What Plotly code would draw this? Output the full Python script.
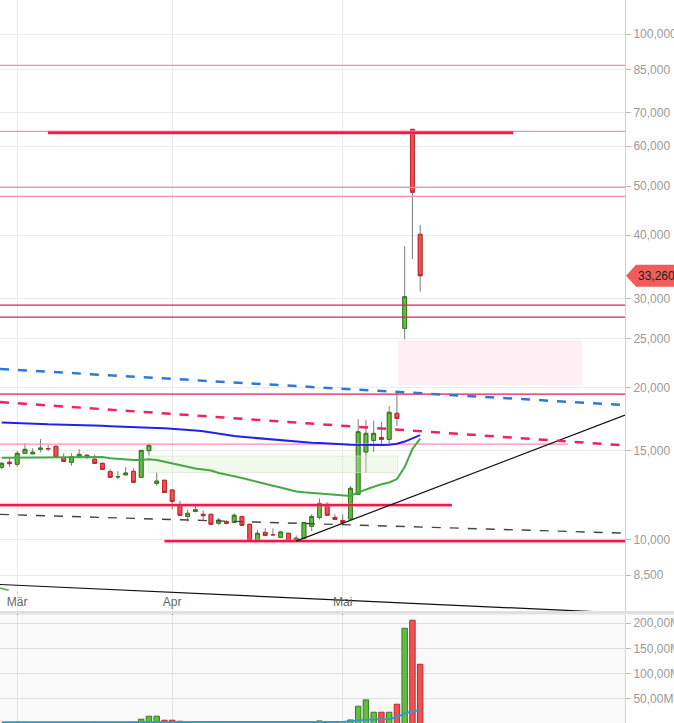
import math
import plotly.graph_objects as go

# ---------------- data ----------------
day_index = list(range(55))

opens = [13900, 14220, 14090, 14810, 14780, 15080, 15140, 15290, 14540, 14220,
         14540, 14680, 14410, 14150, 13620, 13300, 13430, 13640, 13280, 14990,
         12920, 13100, 12530, 11720, 11110, 11370, 11220, 11220, 10770, 10850,
         10810, 11110, 10720, 9930, 10330, 10230, 10100, 10290, 9960, 10060,
         10620, 11060, 11740, 11060, 10910, 10980, 12290, 14900, 15710, 15920,
         15780, 17770, 26170, 64780, 40150]
highs = [14250, 14560, 14970, 15500, 15150, 15800, 15380, 15360, 14810, 14810,
         15100, 14740, 14740, 14210, 13770, 13660, 13910, 13830, 15020, 15500,
         13580, 13110, 12590, 11920, 11470, 11740, 11400, 11230, 11060, 10930,
         11270, 11120, 10730, 10440, 10520, 10520, 10410, 10300, 10190, 10820,
         11220, 12060, 11850, 11220, 11220, 12760, 17290, 17230, 17180, 17100,
         18370, 19600, 38070, 64800, 41890]
lows = [13790, 13930, 13930, 14780, 14740, 14880, 14970, 14480, 14270, 14000,
        14520, 14420, 14140, 13760, 13270, 13160, 13400, 12970, 13270, 14650,
        12780, 12380, 11470, 11160, 10850, 11320, 10930, 10710, 10670, 10720,
        10770, 10660, 9930, 9930, 10190, 10190, 10090, 9930, 9950, 10050,
        10390, 10960, 11160, 10930, 10810, 10930, 12280, 13560, 14900, 15380,
        15380, 16770, 24890, 35880, 30920]
closes = [14150, 14130, 14810, 15080, 14880, 15170, 15120, 14540, 14280, 14580,
          14740, 14580, 14150, 13770, 13280, 13320, 13540, 12980, 15010, 15360,
          13050, 12390, 11900, 11170, 11270, 11450, 11150, 10720, 10930, 10770,
          11170, 10670, 9930, 10290, 10190, 10220, 10350, 9930, 10060, 10810,
          11110, 11790, 11170, 10960, 10810, 12630, 16340, 16220, 16220, 15780,
          17850, 17370, 30220, 48630, 33260]

ma_blue = [17050, 17020, 16980, 16940, 16920, 16910, 16900, 16890, 16880, 16870,
           16845, 16820, 16800, 16785, 16760, 16745, 16730, 16715, 16675, 16645,
           16620, 16595, 16565, 16530, 16485, 16440, 16370, 16280, 16170, 16095,
           16020, 15965, 15915, 15855, 15806, 15750, 15700, 15650, 15605, 15565,
           15535, 15515, 15500, 15465, 15430, 15395, 15380, 15380, 15380, 15380,
           15395, 15465, 15625, 15880, 16095]
ma_green = [14516, 14520, 14530, 14535, 14543, 14563, 14576, 14583, 14583, 14583,
            14583, 14583, 14583, 14563, 14477, 14431, 14398, 14365, 14365, 14411,
            14365, 14248, 14138, 14004, 13928, 13820, 13758, 13695, 13539, 13416,
            13337, 13234, 13114, 12977, 12876, 12772, 12679, 12559, 12445, 12400,
            12361, 12333, 12294, 12250, 12205, 12194, 12400, 12582, 12720, 12865,
            12966, 13173, 13914, 15103, 15842]

volumes_m = [1.5, 1.5, 3.5, 3.5, 1, 1, 1, 1, 1, 1.5,
             1, 2, 3.5, 1, 1, 1.5, 2, 3.5, 9.7, 15.7,
             15.7, 7.7, 7.7, 5.7, 2, 1.5, 1, 1.5, 1, 1,
             1.5, 1, 2, 1.5, 1, 1, 1.5, 1.5, 1, 2,
             2, 6.3, 2, 1.5, 2, 8.3, 35.5, 48, 23.6, 23.6,
             23.6, 39.4, 190, 206, 118.7]
vol_ma_m = [3.8, 3.8, 3.9, 3.9, 3.9, 4.0, 4.0, 4.0, 4.0, 4.0,
            4.0, 4.0, 4.0, 4.0, 4.0, 4.0, 4.0, 4.1, 4.1, 4.2,
            4.2, 4.2, 4.2, 4.2, 4.1, 4.1, 4.1, 4.1, 4.0, 4.0,
            4.0, 4.0, 4.0, 4.0, 4.0, 4.0, 4.0, 4.0, 4.0, 4.0,
            4.0, 4.1, 4.1, 4.1, 4.3, 5.5, 7.5, 8.5, 9.0, 9.3,
            10.0, 13.5, 21.5, 25.0, 28.0]

month_ticks = [2, 22, 44]
month_labels = ["Mär", "Apr", "Mai"]
price_ticks = [8500, 10000, 15000, 20000, 25000, 30000, 40000, 50000, 60000, 70000, 85000, 100000]
vol_ticks_m = [50, 100, 150, 200]
vol_tick_labels = ["50,00M", "100,00M", "150,00M", "200,00M"]

x_range = [-0.22, 80.43]
price_range = [7222, 116760]
vol_range_m = [2.2, 216.4]

# horizontal levels
pink_levels = [86700, 64200, 49730, 47750]
crimson_levels = [29100, 27550, 19400]
pink_short_level = 15450
pink_short_end = 73.1
thick_levels = [63800, 11700, 9930]
thick_starts = [5.97, -0.22, 21.0]
thick_ends = [66.0, 58.1, 80.43]

# trend lines: x start/end (day index), price start/end
trend_x0 = [-0.22, 38.0, -0.22, -0.22, -0.22, -0.22]
trend_x1 = [80.04, 80.43, 80.43, 80.43, 80.43, 2.1]
trend_p0 = [11215, 9930, 8148, 21750, 18710, 8020]
trend_p1 = [10300, 17630, 7155, 18450, 15350, 7856]
trend_colors = ["#444444", "#111111", "#111111", "#2b7bd6", "#f0245a", "#4caf50"]
trend_dash = ["dash", "solid", "solid", "dash", "dash", "dash"]
trend_width = [1.4, 1.2, 1.2, 2.5, 2.5, 1.5]

# zones (x0, x1, p0, p1)
zone_x0 = [51.1, 18.9]
zone_x1 = [74.9, 51.1]
zone_p0 = [20210, 13570]
zone_p1 = [24810, 14630]
zone_fill = ["rgba(253,228,236,0.6)", "rgba(214,238,200,0.35)"]
zone_line = ["rgba(253,226,234,0.0)", "rgba(205,232,190,0.6)"]

last_close = closes[-1]

# ---------------- colours ----------------
UP_FILL, UP_LINE = "#62bf3c", "#357a22"
DN_FILL, DN_LINE = "#f0524f", "#c0262c"
WICK = "#7a7a7a"
PINK = "#f48fb1"
CRIMSON = "#df1d5c"
THICK = "#f5174a"

fig = go.Figure()

def line_trace(xs, ys, color, width, dash="solid", xa="x", ya="y"):
    fig.add_trace(go.Scatter(x=xs, y=ys, mode="lines", hoverinfo="skip", showlegend=False,
                             line=dict(color=color, width=width, dash=dash), xaxis=xa, yaxis=ya))

# zones
for x0, x1, p0, p1, fc, lc in zip(zone_x0, zone_x1, zone_p0, zone_p1, zone_fill, zone_line):
    fig.add_trace(go.Scatter(x=[x0, x1, x1, x0, x0], y=[p0, p0, p1, p1, p0], mode="lines",
                             fill="toself", fillcolor=fc, line=dict(color=lc, width=1),
                             hoverinfo="skip", showlegend=False))

# horizontal levels
for p in pink_levels:
    line_trace(x_range, [p, p], PINK, 1.3)
for p in crimson_levels:
    line_trace(x_range, [p, p], CRIMSON, 1.3)
line_trace([x_range[0], pink_short_end], [pink_short_level, pink_short_level], PINK, 1.3)
for p, a, b in zip(thick_levels, thick_starts, thick_ends):
    line_trace([a, b], [p, p], "rgba(255,110,150,0.35)", 4.5)
    line_trace([a, b], [p, p], THICK, 2.4)

# trend lines
for a, b, p0, p1, c, d, w in zip(trend_x0, trend_x1, trend_p0, trend_p1, trend_colors, trend_dash, trend_width):
    line_trace([a, b], [p0, p1], c, w, d)

# moving averages
line_trace(day_index, ma_green, "#45a845", 2)
line_trace(day_index, ma_blue, "#2222ee", 2)

# candles: wicks (gray) then bodies
fig.add_trace(go.Candlestick(
    x=day_index, open=opens, high=highs, low=lows, close=closes,
    increasing=dict(line=dict(color=WICK, width=1), fillcolor=WICK),
    decreasing=dict(line=dict(color=WICK, width=1), fillcolor=WICK),
    whiskerwidth=0, hoverinfo="skip", showlegend=False))
body_hi = [max(o, c) for o, c in zip(opens, closes)]
body_lo = [min(o, c) for o, c in zip(opens, closes)]
fig.add_trace(go.Candlestick(
    x=day_index, open=opens, high=body_hi, low=body_lo, close=closes,
    increasing=dict(line=dict(color=UP_LINE, width=1), fillcolor=UP_FILL),
    decreasing=dict(line=dict(color=DN_LINE, width=1), fillcolor=DN_FILL),
    whiskerwidth=0, hoverinfo="skip", showlegend=False))

# volume
up = [c >= o for o, c in zip(opens, closes)]
fig.add_trace(go.Bar(x=day_index, y=volumes_m, width=0.7, xaxis="x2", yaxis="y2",
                     marker=dict(color=[UP_FILL if u else DN_FILL for u in up],
                                 line=dict(color=[UP_LINE if u else DN_LINE for u in up], width=1)),
                     hoverinfo="skip", showlegend=False))
line_trace(day_index, vol_ma_m, "#2f9bd0", 2, xa="x2", ya="y2")

# ---------------- layout ----------------
H = 723
price_dom = [(H - 611) / H, 1.0]
vol_dom = [0.0, (H - 615) / H]
lo, hi = math.log10(price_range[0]), math.log10(price_range[1])

tick_font = dict(color="#9a9a9a", size=12)
fig.update_layout(
    width=674, height=H,
    margin=dict(l=0, r=49, t=0, b=0, autoexpand=False),
    paper_bgcolor="white", plot_bgcolor="rgba(0,0,0,0)",
    font=dict(family="Liberation Sans, Arial, sans-serif", size=12, color="#999"),
    showlegend=False,
    xaxis=dict(domain=[0, 1], range=x_range, anchor="y", tickvals=month_ticks, ticktext=month_labels,
               showgrid=True, gridcolor="#ebebeb", gridwidth=1, zeroline=False, showline=False,
               ticks="outside", ticklen=4, tickcolor="#555", ticklabelposition="inside",
               tickfont=dict(color="#666", size=12), rangeslider=dict(visible=False)),
    yaxis=dict(domain=price_dom, type="log", range=[lo, hi], side="right", anchor="x",
               tickvals=price_ticks, ticktext=[f"{v:,}" for v in price_ticks],
               showgrid=True, gridcolor="#ebebeb", zeroline=False,
               ticks="outside", ticklen=5, tickcolor="#bbbbbb",
               showline=True, linecolor="#d3d3d3", tickfont=tick_font),
    xaxis2=dict(domain=[0, 1], range=x_range, anchor="y2", tickvals=month_ticks, showticklabels=False,
                showgrid=True, gridcolor="#e2e2e2", zeroline=False, showline=False, ticks=""),
    yaxis2=dict(domain=vol_dom, range=vol_range_m, side="right", anchor="x2",
                tickvals=vol_ticks_m, ticktext=vol_tick_labels,
                showgrid=True, gridcolor="#e0e0e0", zeroline=False,
                ticks="outside", ticklen=5, tickcolor="#bbbbbb",
                showline=True, linecolor="#d3d3d3", tickfont=tick_font),
)

# volume panel background and separator band
fig.add_shape(type="rect", xref="x2 domain", yref="y2 domain", x0=0, x1=1, y0=0, y1=1,
              fillcolor="#f9f9f9", line=dict(width=0), layer="below")
fig.add_shape(type="rect", xref="paper", yref="paper", x0=0, x1=1.08,
              y0=(H - 614.5) / H, y1=(H - 611) / H, fillcolor="#e0e0e0", line=dict(width=0))

# last price tag
frac = (math.log10(last_close) - lo) / (hi - lo)
dy = 11 / 611
tip, body_left, right = 626 / 625, 636 / 625, 1.09
fig.add_shape(type="path", xref="paper", yref="y domain",
              path=f"M {tip},{frac} L {body_left},{frac + dy} L {right},{frac + dy} "
                   f"L {right},{frac - dy} L {body_left},{frac - dy} Z",
              fillcolor="#f05c5a", line=dict(width=0))
fig.add_annotation(xref="paper", yref="y domain", x=body_left, y=frac, xanchor="left", yanchor="middle",
                   text=f"{last_close:,}", showarrow=False, font=dict(color="#222", size=12))

fig.write_html("out.html", config={"displayModeBar": False},
               post_script="document.body.style.margin='0';document.body.style.overflow='hidden';")
